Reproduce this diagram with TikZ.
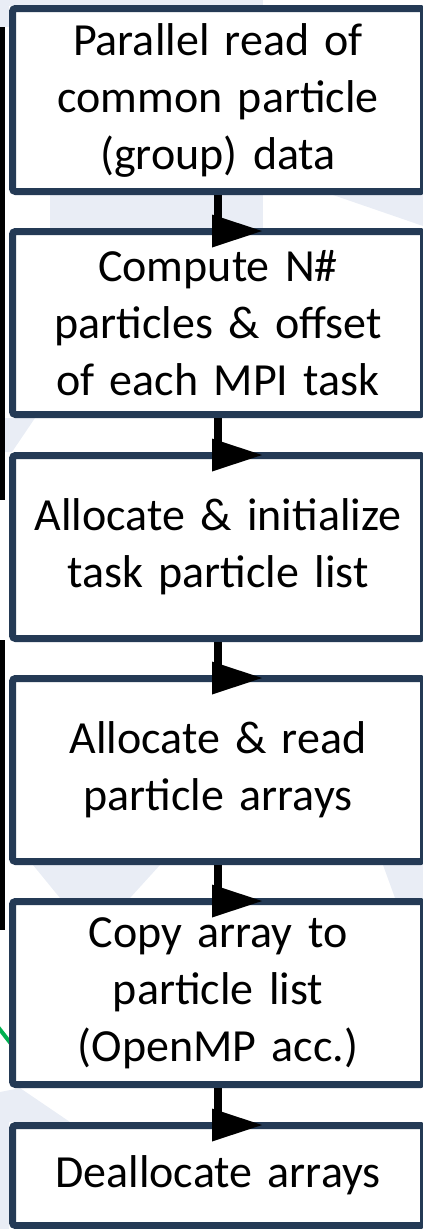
\documentclass[tikz,border=0pt]{standalone}
\usepackage{fontspec}
\setmainfont{Carlito}
\usetikzlibrary{arrows.meta,positioning}

\definecolor{boxline}{HTML}{243A55}
\definecolor{paleback}{HTML}{E9EDF5}
\definecolor{slidegreen}{HTML}{00B050}

\begin{document}
\begin{tikzpicture}[
        x=1pt, y=-1pt,
        stepbox/.style = {
            rectangle, draw=boxline, line width=7pt, rounded corners=3pt, fill=white,
            minimum width=411pt, minimum height=183pt, text width=400pt, align=center,
            inner sep=2pt, font=\fontsize{46}{57}\selectfont
        },
        flowarrow/.style = {
            line width=8pt, black,
            -{Triangle[length=50pt, width=33pt, line width=0pt]}
        }
    ]
    \useasboundingbox (0,0) rectangle (423,1229);

    % background of the slide
    \fill[paleback] (0,0) rectangle (263,6);
    \fill[paleback] (0,0) rectangle (9,27);
    \fill[paleback] (50,195) rectangle (263,228);
    \fill[paleback] (333,195) -- (423,195) -- (423,226) -- cycle;
    \fill[paleback] (5,418) -- (35,418) -- (12,452) -- (5,452) -- cycle;
    \fill[paleback] (33,865) -- (160,865) -- (130,898) -- (60,898) -- cycle;
    \fill[paleback] (383,865) -- (423,865) -- (423,898) -- (395,898) -- cycle;
    \fill[paleback] (0,1092) -- (20,1088) -- (70,1122) -- (9,1122) -- (9,1229) -- (0,1229) -- cycle;
    \fill[black] (0,27) rectangle (5,500);
    \fill[black] (0,640) rectangle (5,930);
    \draw[slidegreen, line width=4pt] (-2,1027) -- (12,1045);

    %nodes
    \node[stepbox] (readcommon) at (218,100) {Parallel read of\\common particle\\(group) data};
    \node[stepbox] (countoffset) at (218,323) {Compute N\#\\particles \& offset\\of each MPI task};
    \node[stepbox] (initlist) at (218,547) {Allocate \& initialize\\task particle list};
    \node[stepbox] (readarrays) at (218,770) {Allocate \& read\\particle arrays};
    \node[stepbox] (copylist) at (218,993) {Copy array to\\particle list\\(OpenMP acc.)};
    \node[stepbox, minimum height=100pt] (dealloc) at (218,1175.5) {Deallocate arrays};

    % arrows
    \draw[flowarrow] (readcommon.south) |- ([xshift=44pt,yshift=-3pt]countoffset.north);
    \draw[flowarrow] (countoffset.south) |- ([xshift=44pt,yshift=-3pt]initlist.north);
    \draw[flowarrow] (initlist.south) |- ([xshift=44pt,yshift=-3pt]readarrays.north);
    \draw[flowarrow] (readarrays.south) |- ([xshift=44pt,yshift=-3pt]copylist.north);
    \draw[flowarrow] (copylist.south) |- ([xshift=44pt,yshift=-3pt]dealloc.north);

\end{tikzpicture}
\end{document}
